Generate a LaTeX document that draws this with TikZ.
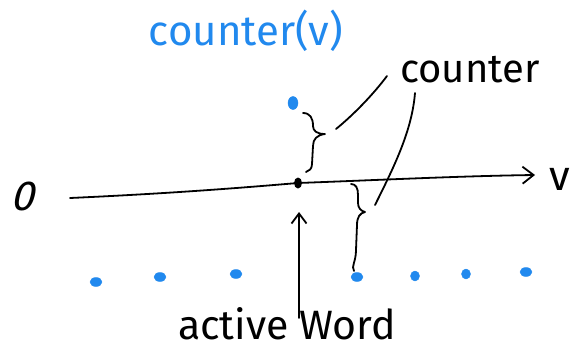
\documentclass[tikz,border=0pt]{standalone}
\usepackage{fontspec}
\setmainfont{Fira Sans}
\usetikzlibrary{arrows.meta,shapes.geometric}
\definecolor{inkblue}{RGB}{33,137,238}
\begin{document}
\begin{tikzpicture}[x=1pt,y=-1pt,
  stroke/.style={line width=1.8pt,line cap=round,line join=round,draw=black},
  handarrow/.style={stroke,-{Straight Barb[length=11pt,width=17pt,line width=1.8pt]}},
  bluedot/.style={ellipse,fill=inkblue,draw=inkblue,inner sep=0pt,minimum width=12pt,minimum height=9pt},
  blackdot/.style={ellipse,fill=black,inner sep=0pt,minimum width=8pt,minimum height=11pt},
  bigtext/.style={inner sep=0pt,anchor=base,font=\fontsize{40}{40}\selectfont},
  bluetext/.style={bigtext,text=inkblue,font=\fontsize{42}{42}\selectfont}]
\useasboundingbox (0,0) rectangle (575,351);
\fill[white] (0,0) rectangle (575,351);

% texts
\node[bluetext] (cv) at (246,45) {counter(v)};
\node[bigtext] (cnt) at (470,82) {counter};
\node[bigtext,font=\fontsize{42}{42}\selectfont,xslant=0.25] (zero) at (22,210) {0};
\node[bigtext,font=\fontsize{42}{42}\selectfont] (vlab) at (560,190) {v};
\node[bigtext,font=\fontsize{41}{41}\selectfont] (aw) at (287,339) {active Word};

% dots
\node[blackdot] (act) at (298,183) {};
\node[bluedot,minimum width=10pt,minimum height=13pt] (top) at (293,103) {};
\node[bluedot] (b1) at (96,282) {};
\node[bluedot] (b2) at (160,277) {};
\node[bluedot] (b3) at (236,274) {};
\node[bluedot] (b4) at (357,277) {};
\node[bluedot,minimum width=9pt,minimum height=10pt] (b5) at (415,276) {};
\node[bluedot,minimum width=9pt,minimum height=10pt] (b6) at (466,274) {};
\node[bluedot] (b7) at (526,272) {};

% axis
\coordinate (axL) at (70,198);
\coordinate (axR) at (535,175);
\draw[stroke] (axL) .. controls (180,193) and (250,187) .. (act.center);
\draw[handarrow] (act.center) .. controls (380,180) and (460,176) .. (axR);

% arrow to the active word
\coordinate (awtail) at (299,318);
\draw[handarrow,-{Straight Barb[length=10pt,width=15pt,line width=1.8pt]}] (awtail) -- (299,212);

% upper brace (top dot to active word)
\coordinate (ubT) at (303,113);
\coordinate (ubTip) at (325,134);
\coordinate (ubB) at (306,172);
\draw[stroke] (ubT) .. controls (310,113) and (313,118) .. (313,126)
  .. controls (313,131) and (317,134) .. (ubTip)
  .. controls (317,135) and (313,139) .. (313,146)
  -- (312,164) .. controls (312,169) and (309,171) .. (ubB);

% lower brace (active word to next dot)
\coordinate (lbT) at (351,184);
\coordinate (lbTip) at (365,212);
\coordinate (lbB) at (354,271);
\draw[stroke] (lbT) .. controls (356,184) and (358,188) .. (358,195)
  -- (358,203) .. controls (358,208) and (361,211) .. (lbTip)
  .. controls (360,213) and (357,217) .. (357,225)
  -- (356,250) .. controls (356,262) and (351,266) .. (lbB);

% leader lines to "counter"
\coordinate (l1a) at (336,129);
\coordinate (l1b) at (387,76);
\draw[stroke] (l1a) .. controls (352,116) and (372,96) .. (l1b);
\coordinate (l2a) at (415,93);
\coordinate (l2b) at (375,205);
\draw[stroke] (l2a) .. controls (412,130) and (395,165) .. (l2b);
\end{tikzpicture}
\end{document}
